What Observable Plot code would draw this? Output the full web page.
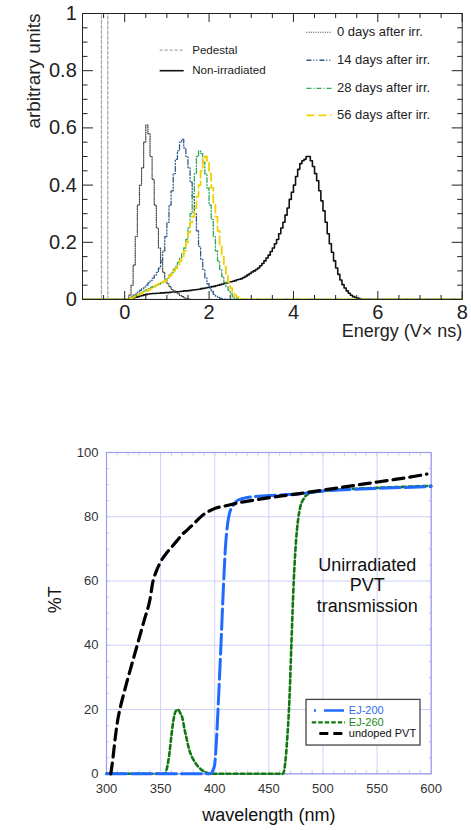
<!DOCTYPE html>
<html><head><meta charset="utf-8">
<script src="https://cdn.jsdelivr.net/npm/d3@7"></script>
<script src="https://cdn.jsdelivr.net/npm/@observablehq/plot@0.6"></script>
<style>
body{margin:0;background:#fff;width:471px;height:830px;overflow:hidden;font-family:"Liberation Sans",Arial,Helvetica,sans-serif}
svg{display:block}
</style></head><body><div id="top"></div><div id="bottom"></div>
<script>
// ---------- Top panel: energy spectra (histograms) ----------
const energyRange = [-1, 8];
const binWidth = 0.05;
const energyMajorTicks = [0, 2, 4, 6, 8];
const energyMinorTicks = [-1, -0.5, 0.5, 1, 1.5, 2.5, 3, 3.5, 4.5, 5, 5.5, 6.5, 7, 7.5];
const unitsMajorTicks = [0, 0.2, 0.4, 0.6, 0.8, 1];
const unitsMinorTicks = [0.05,0.1,0.15,0.25,0.3,0.35,0.45,0.5,0.55,0.65,0.7,0.75,0.85,0.9,0.95];

const pedestalStart = -0.55;
const pedestalCounts = [1.5, 1.5, 1.5];

const day0Start = 0.10;
const day0Counts = [0.015,0.05,0.12,0.22,0.33,0.40,0.46,0.55,0.61,0.58,0.50,0.42,0.33,0.25,0.18,0.13,0.095,0.07,0.055,0.045,0.035,0.03,0.025,0.02,0.014,0.01,0.006,0.003,0.001];

const day14Start = 0.10;
const day14Counts = [0.005,0.01,0.015,0.02,0.026,0.032,0.038,0.044,0.05,0.058,0.066,0.075,0.085,0.095,0.11,0.135,0.17,0.22,0.27,0.33,0.38,0.44,0.49,0.52,0.55,0.56,0.53,0.50,0.46,0.41,0.36,0.30,0.24,0.185,0.14,0.105,0.075,0.055,0.04,0.028,0.018,0.012,0.007,0.004,0.002,0.001];

const day28Start = 0.10;
const day28Counts = [0.003,0.006,0.01,0.014,0.018,0.022,0.026,0.03,0.034,0.038,0.042,0.045,0.048,0.051,0.054,0.057,0.06,0.067,0.075,0.085,0.095,0.105,0.117,0.13,0.145,0.16,0.18,0.21,0.25,0.30,0.37,0.44,0.50,0.52,0.51,0.48,0.44,0.39,0.33,0.28,0.22,0.17,0.135,0.105,0.08,0.06,0.045,0.032,0.02,0.01,0.005,0.002];

const day56Start = 0.10;
const day56Counts = [0.003,0.006,0.01,0.014,0.017,0.02,0.024,0.027,0.03,0.034,0.038,0.042,0.046,0.052,0.056,0.059,0.062,0.068,0.076,0.082,0.09,0.10,0.11,0.12,0.135,0.15,0.17,0.20,0.235,0.27,0.29,0.32,0.36,0.40,0.45,0.49,0.50,0.48,0.44,0.39,0.34,0.29,0.24,0.19,0.15,0.115,0.088,0.06,0.04,0.025,0.014,0.008,0.004,0.001];

const nonIrrStart = 0.10;
const nonIrrCounts = [0.002,0.004,0.006,0.008,0.010,0.012,0.014,0.016,0.018,0.019,0.020,0.021,0.021,0.022,0.022,0.023,0.023,0.024,0.024,0.025,0.026,0.026,0.027,0.027,0.028,0.029,0.030,0.030,0.031,0.032,0.033,0.034,0.035,0.036,0.038,0.039,0.040,0.042,0.043,0.045,0.046,0.048,0.050,0.052,0.054,0.056,0.058,0.060,0.062,0.064,0.066,0.069,0.071,0.073,0.077,0.081,0.086,0.091,0.096,0.10,0.105,0.11,0.118,0.126,0.135,0.145,0.155,0.168,0.18,0.195,0.21,0.23,0.25,0.27,0.295,0.32,0.35,0.375,0.40,0.43,0.455,0.475,0.485,0.49,0.50,0.50,0.485,0.465,0.44,0.415,0.38,0.345,0.31,0.27,0.23,0.195,0.165,0.135,0.11,0.088,0.068,0.052,0.04,0.03,0.022,0.015,0.01,0.007,0.005,0.003,0.002,0.001,0.001,0.0005];

// ---------- Bottom panel: transmission ----------
const wavelengthTicks = [300, 350, 400, 450, 500, 550, 600];
const wavelengthMinor = d3.range(300, 601, 10);
const transTicks = [0, 20, 40, 60, 80, 100];
const transMinor = d3.range(0, 101, 5);

const pvtWavelength = [304,306,308,310,313,316,320,325,330,335,340,343,346,350,355,360,365,370,375,380,385,390,395,400,410,420,440,460,480,500,520,540,560,580,596];
const pvtTransmission = [0,5,11,16,21,25,30,36,42,48,54,60,63,66,68.5,70.5,72.5,74.5,76,77.6,79.3,80.8,81.8,82.6,83.4,84.2,85.4,86.4,87.3,88.3,89.3,90.3,91.3,92.3,93.3];

const ej200Wavelength = [300,396,398,400,402,404,406,408,410,412,414,416,418,420,425,430,450,480,500,550,600];
const ej200Transmission = [0,0,0.8,3,13,27,42,58,71,78,81.5,83,84,84.8,85.6,86,86.6,87.2,88,88.8,89.4];

const ej260Wavelength = [300,354,356,358,360,362,364,366,368,370,372,374,376,378,381,384,388,392,396,463,465,467,469,471,473,475,477,479,482,487,495,500,550,600];
const ej260Transmission = [0,0,2,6,12,17,19.5,20,19,17.5,14,11,8,6,4,2.5,1.2,0.4,0,0,3,11,23,42,60,72,79,83,85.5,87.2,87.8,88,89,89.6];

const topLegendLeft = ["Pedestal", "Non-irradiated"];
const topLegendRight = ["0 days after irr.", "14 days after irr.", "28 days after irr.", "56 days after irr."];
const bottomLegend = ["EJ-200", "EJ-260", "undoped PVT"];

// ---------- helpers ----------
function histogram(start, width, counts) {
  const pts = [{x: energyRange[0], y: 0}];
  counts.forEach((c, i) => pts.push({x: start + i * width, y: c}));
  pts.push({x: start + counts.length * width, y: 0});
  pts.push({x: energyRange[1], y: 0});
  return pts;
}
const curveData = (xs, ys) => xs.map((x, i) => ({x, y: ys[i]}));

const FONT = '"Liberation Sans", Arial, Helvetica, sans-serif';
const c = {
  ped: "#a8a8a8", non: "#111", d0: "#444", d14: "#2e5c8c", d28: "#2fa85a", d56: "#f2cf00"
};
const st = {
  ped: {stroke: c.ped, strokeDasharray: "3,2", strokeWidth: 1.3},
  non: {stroke: c.non, strokeWidth: 1.6},
  d0: {stroke: c.d0, strokeDasharray: "1,1.3", strokeWidth: 1.2},
  d14: {stroke: c.d14, strokeDasharray: "5,2,1,2,1,2", strokeWidth: 1.3},
  d28: {stroke: c.d28, strokeDasharray: "5,2,1,2", strokeWidth: 1.3},
  d56: {stroke: c.d56, strokeDasharray: "8,4", strokeWidth: 1.8}
};
const hline = (data, s) => Plot.line(data, {x: "x", y: "y", curve: "step-after", clip: true, ...s});

const topPlot = Plot.plot({
  width: 471, height: 350,
  marginTop: 13, marginBottom: 51, marginLeft: 82, marginRight: 9.3,
  x: {domain: energyRange, label: null},
  y: {domain: [0, 1], label: null},
  style: {fontFamily: FONT, color: "#222", background: "white", overflow: "visible"},
  marks: [
    hline(histogram(nonIrrStart, binWidth, nonIrrCounts), st.non),
    hline(histogram(pedestalStart, binWidth, pedestalCounts), st.ped),
    hline(histogram(day0Start, binWidth, day0Counts), st.d0),
    hline(histogram(day14Start, binWidth, day14Counts), st.d14),
    hline(histogram(day28Start, binWidth, day28Counts), st.d28),
    hline(histogram(day56Start, binWidth, day56Counts), st.d56),
    Plot.frame({stroke: "#222", strokeWidth: 1}),
    Plot.axisX(energyMinorTicks, {anchor: "bottom", tickSize: -4, tickFormat: () => "", label: null}),
    Plot.axisX(energyMinorTicks, {anchor: "top", tickSize: -4, tickFormat: () => "", label: null}),
    Plot.axisX(energyMajorTicks, {anchor: "top", tickSize: -8, tickFormat: () => "", label: null}),
    Plot.axisX(energyMajorTicks, {anchor: "bottom", tickSize: -8, tickPadding: 13, fontSize: 20, tickFormat: d => String(d), label: null}),
    Plot.axisY(unitsMinorTicks, {anchor: "left", tickSize: -5.5, tickFormat: () => "", label: null}),
    Plot.axisY(unitsMinorTicks, {anchor: "right", tickSize: -5.5, tickFormat: () => "", label: null}),
    Plot.axisY(unitsMajorTicks, {anchor: "right", tickSize: -11, tickFormat: () => "", label: null}),
    Plot.axisY(unitsMajorTicks, {anchor: "left", tickSize: -11, tickPadding: 16.7, fontSize: 20, tickFormat: d => String(d), label: null}),
    // legends
    Plot.ruleY([0.872], {x1: 0.84, x2: 1.41, ...st.ped}),
    Plot.ruleY([0.80], {x1: 0.84, x2: 1.41, ...st.non}),
    Plot.text(topLegendLeft, {x: 1.6, y: (d, i) => [0.872, 0.80][i], textAnchor: "start", fontSize: 11.6, fill: "#222"}),
    Plot.ruleY([0.9345], {x1: 4.32, x2: 4.92, ...st.d0}),
    Plot.ruleY([0.8365], {x1: 4.32, x2: 4.92, ...st.d14}),
    Plot.ruleY([0.7385], {x1: 4.32, x2: 4.92, ...st.d28}),
    Plot.ruleY([0.644], {x1: 4.32, x2: 4.92, ...st.d56}),
    Plot.text(topLegendRight, {x: 5.03, y: (d, i) => [0.9345, 0.8365, 0.7385, 0.644][i], textAnchor: "start", fontSize: 13, fill: "#222"}),
    // axis titles
    Plot.text(["arbitrary units"], {frameAnchor: "top-left", dx: -56, rotate: -90, textAnchor: "end", fontSize: 19, fill: "#222"}),
    Plot.text(["Energy (V\u00d7 ns)"], {frameAnchor: "bottom-right", dy: 37, textAnchor: "end", fontSize: 18, fill: "#222"})
  ]
});
document.getElementById("top").appendChild(topPlot);

const grid = "#cfcff7";
const frameBlue = "#9c9cee";
const bs = {
  ej200: {stroke: "#1f6bff", strokeWidth: 3, strokeDasharray: "20,5"},
  ej260: {stroke: "#127812", strokeWidth: 2.6, strokeDasharray: "4,3"},
  pvt: {stroke: "#000", strokeWidth: 3.2, strokeDasharray: "11,6"}
};

const bottomPlot = Plot.plot({
  width: 471, height: 480,
  marginTop: 102, marginBottom: 56.7, marginLeft: 106, marginRight: 40.3,
  x: {domain: [300, 600], label: null},
  y: {domain: [0, 100], label: null},
  style: {fontFamily: FONT, color: "#333", background: "white", overflow: "visible"},
  marks: [
    Plot.gridX(wavelengthTicks, {stroke: grid, strokeOpacity: 1}),
    Plot.gridY(transTicks, {stroke: grid, strokeOpacity: 1}),
    Plot.axisX(wavelengthMinor, {anchor: "bottom", tickSize: -3.5, tickFormat: () => "", stroke: grid, label: null}),
    Plot.axisX(wavelengthMinor, {anchor: "top", tickSize: -3.5, tickFormat: () => "", stroke: grid, label: null}),
    Plot.axisY(transMinor, {anchor: "left", tickSize: -3.5, tickFormat: () => "", stroke: grid, label: null}),
    Plot.axisY(transMinor, {anchor: "right", tickSize: -3.5, tickFormat: () => "", stroke: grid, label: null}),
    Plot.axisX(wavelengthTicks, {anchor: "bottom", tickSize: 0, tickPadding: 10, fontSize: 13, fill: "#333", label: null}),
    Plot.axisY(transTicks, {anchor: "left", tickSize: 0, tickPadding: 8, fontSize: 13, fill: "#333", label: null}),
    Plot.frame({stroke: frameBlue, strokeWidth: 1.2}),
    Plot.line(curveData(ej260Wavelength, ej260Transmission), {x: "x", y: "y", curve: "monotone-x", ...bs.ej260}),
    Plot.line(curveData(ej200Wavelength, ej200Transmission), {x: "x", y: "y", curve: "monotone-x", ...bs.ej200}),
    Plot.line(curveData(pvtWavelength, pvtTransmission), {x: "x", y: "y", curve: "monotone-x", ...bs.pvt}),
    Plot.text(["Unirradiated\nPVT\ntransmission"], {x: 541, y: 58.8, fontSize: 18, lineHeight: 1.14, fill: "#111"}),
    // legend box
    Plot.rect([0], {x1: 484.8, x2: 590.1, y1: 8.8, y2: 23.0, fill: "white", stroke: "#444", strokeWidth: 1.3}),
    Plot.ruleY([19.7], {x1: 492.2, x2: 520, stroke: bs.ej200.stroke, strokeWidth: 2.6, strokeDasharray: "2,8,20"}),
    Plot.ruleY([16.0], {x1: 490.1, x2: 520.8, stroke: bs.ej260.stroke, strokeWidth: 2.4, strokeDasharray: "4.5,2"}),
    Plot.ruleY([12.55], {x1: 497.1, x2: 519.3, stroke: "#000", strokeWidth: 3, strokeDasharray: "9,5"}),
    Plot.text(bottomLegend, {x: 523.9, y: (d, i) => [19.7, 16.0, 12.55][i], textAnchor: "start", fontSize: 11,
      fill: (d, i) => ["#2f6cf2", "#1a8a1a", "#111"][i]}),
    // axis titles
    Plot.text(["%T"], {frameAnchor: "left", dx: -51, rotate: -90, fontSize: 18, fill: "#111"}),
    Plot.text(["wavelength (nm)"], {frameAnchor: "bottom", dy: 46.7, fontSize: 18, fill: "#111"})
  ]
});
document.getElementById("bottom").appendChild(bottomPlot);
</script></body></html>
